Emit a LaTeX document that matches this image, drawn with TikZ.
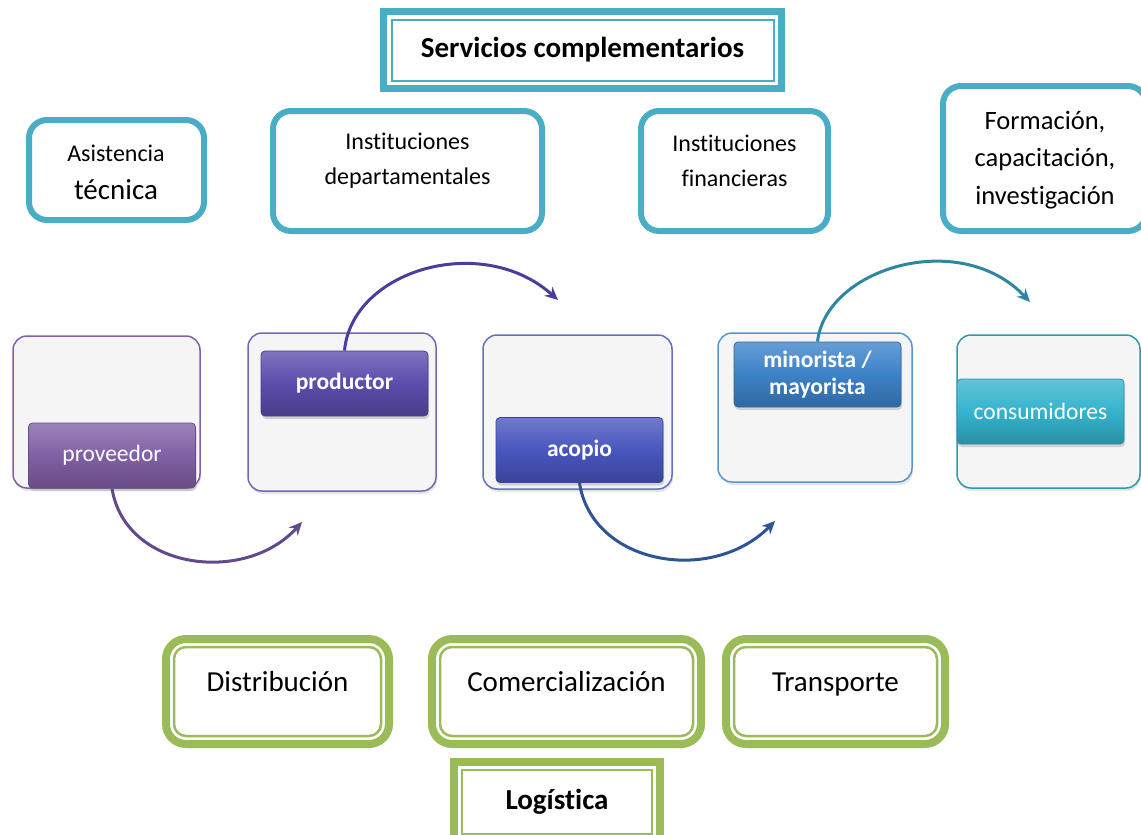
\documentclass[tikz,border=0pt]{standalone}
\usepackage{fontspec}
\setmainfont{Carlito}[Ligatures=NoCommon]
\usetikzlibrary{arrows.meta,shadows}

\definecolor{svcteal}{RGB}{75,172,198}
\definecolor{loggreen}{RGB}{155,187,89}
\definecolor{stagegray}{RGB}{245,245,245}
\definecolor{provcol}{RGB}{128,96,166}
\definecolor{prodcol}{RGB}{92,76,172}
\definecolor{acopcol}{RGB}{72,86,190}
\definecolor{minocol}{RGB}{60,130,200}
\definecolor{conscol}{RGB}{52,180,206}
\definecolor{flowa}{RGB}{96,74,140}
\definecolor{flowb}{RGB}{74,62,155}
\definecolor{flowc}{RGB}{46,84,150}
\definecolor{flowd}{RGB}{48,134,160}

\tikzset{
	svcbox/.style={draw=svcteal, line width=6pt, fill=white, rounded corners=18pt},
	svctext/.style={font=\fontsize{24}{35}\selectfont, align=center},
	logbox/.style={draw=loggreen, line width=8pt, fill=white, rounded corners=20pt},
	logtext/.style={font=\fontsize{29}{35}\selectfont, anchor=base},
	innerline/.style={draw=loggreen, line width=2.5pt},
	stagebox/.style={draw=#1, line width=1.5pt, fill=stagegray, rounded corners=14pt,
		drop shadow={shadow xshift=1pt, shadow yshift=-3pt, opacity=0.2}},
	stagebtn/.style={draw=#1!80!black, line width=0.8pt, rounded corners=4pt,
		top color=#1!78!white, bottom color=#1!80!black, middle color=#1,
		text=white, font=\fontsize{23.5}{27}\selectfont, align=center,
		minimum width=167pt, minimum height=65pt, inner sep=0pt,
		drop shadow={shadow xshift=1pt, shadow yshift=-3pt, opacity=0.3}},
	boldbtn/.style={font=\bfseries\fontsize{23.5}{27}\selectfont},
	flow/.style={draw=#1, line width=3pt, -{Stealth[length=13pt, width=12pt]}},
}

\begin{document}
\begin{tikzpicture}[x=1pt, y=-1pt] % 以像素为单位, y 轴向下
	\useasboundingbox (0,0) rectangle (1141,835);
	% 上方的服务
	\node[svcbox, sharp corners, line width=7pt, minimum width=398pt, minimum height=77pt,
		font=\bfseries\fontsize{29}{35}\selectfont] (svc) at (582.5,50) {Servicios complementarios};
	\draw[svcteal, line width=2pt]
		([shift={(11.5,11.5)}]svc.north west) rectangle ([shift={(-11.5,-11.5)}]svc.south east);
	\node[svcbox, minimum width=175pt, minimum height=100pt] (asisbox) at (116.5,170) {};
	\node[svctext] (asis) at (116,153) {Asistencia};
	\node[logtext, anchor=center] (tecn) at (116,190) {técnica};
	\node[svcbox, minimum width=269pt, minimum height=120pt] (depbox) at (407.5,171) {};
	\node[svctext] (dep) at (407.5,161) {Instituciones\\departamentales};
	\node[svcbox, minimum width=187pt, minimum height=120pt] (finbox) at (734.5,171) {};
	\node[svctext] (fin) at (734.5,161) {Instituciones\\financieras};
	\node[svcbox, minimum width=203pt, minimum height=145pt] (formbox) at (1044.5,158.5) {};
	\node[svctext, font=\fontsize{26.5}{37.5}\selectfont] (form) at (1045,160)
		{Formación,\\capacitación,\\investigación};
	% 中间的链条
	\node[stagebox=provcol, minimum width=187pt, minimum height=152pt] (st1) at (106.5,412) {};
	\node[stagebox=prodcol!85!white, minimum width=188pt, minimum height=158pt] (st2) at (342,412) {};
	\node[stagebox=acopcol!85!white, minimum width=189pt, minimum height=154pt] (st3) at (577.5,412) {};
	\node[stagebox=minocol!85!white, minimum width=194pt, minimum height=149pt] (st4) at (815,407.5) {};
	\node[stagebox=conscol!85!black, minimum width=183pt, minimum height=153pt] (st5) at (1048.5,411.5) {};
	\node[stagebtn=provcol] (prov) at (112,455.5) {proveedor};
	\node[stagebtn=prodcol, boldbtn] (prod) at (344.5,383.5) {productor};
	\node[stagebtn=acopcol, boldbtn] (acop) at (579.5,450) {acopio};
	\node[stagebtn=minocol, boldbtn] (mino) at (817.5,374.5) {minorista /\\mayorista};
	\node[stagebtn=conscol] (cons) at (1040.5,411.5) {consumidores};
	% 曲线箭头
	\coordinate (t1) at (302,522);
	\coordinate (t2) at (558,300);
	\coordinate (t3) at (775,521);
	\coordinate (t4) at (1030,302);
	\draw[flow=flowa] (prov.south) .. controls (125,570) and (245,585) .. (t1);
	\draw[flow=flowb] (prod.north) .. controls (352,270) and (482,232) .. (t2);
	\draw[flow=flowc] (acop.south) .. controls (592,565) and (712,585) .. (t3);
	\draw[flow=flowd] (mino.north) .. controls (826,268) and (960,228) .. (t4);
	% 下方的物流
	\node[logbox, minimum width=223pt, minimum height=105pt] (distbox) at (277.5,691.5) {};
	\node[logtext] (dist) at (277.5,691) {Distribución};
	\node[logbox, minimum width=269pt, minimum height=105pt] (combox) at (566.5,691.5) {};
	\node[logtext] (com) at (566.5,691) {Comercialización};
	\node[logbox, minimum width=219pt, minimum height=105pt] (trabox) at (835.5,691.5) {};
	\node[logtext] (tra) at (835.5,691) {Transporte};
	\foreach \b in {distbox, combox, trabox}
		\draw[innerline, rounded corners=12pt]
			([shift={(12,12)}]\b.north west) rectangle ([shift={(-12,-12)}]\b.south east);
	\node[logbox, sharp corners, minimum width=206pt, minimum height=80pt,
		font=\bfseries\fontsize{29}{35}\selectfont] (logi) at (557,802) {Logística};
	\draw[innerline]
		([shift={(12,12)}]logi.north west) rectangle ([shift={(-12,-12)}]logi.south east);
\end{tikzpicture}
\end{document}
